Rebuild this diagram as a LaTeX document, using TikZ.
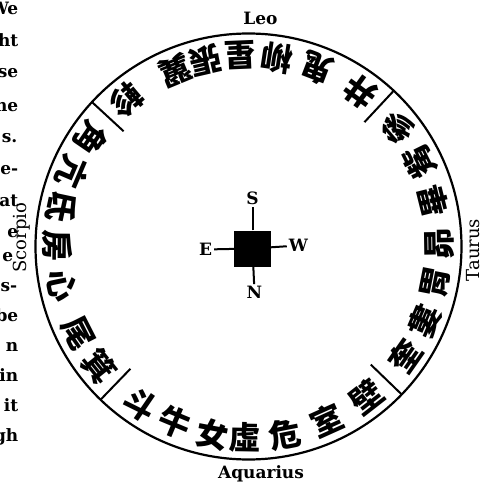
\documentclass[tikz,border=0pt]{standalone}
\usepackage{fontspec}
\setmainfont{DejaVu Serif}
\newfontfamily\cjk{Noto Sans CJK TC}
\usetikzlibrary{positioning}

\begin{document}
\begin{tikzpicture}[x=1pt,y=1pt,
  xiu/.style={inner sep=0pt,font=\cjk\fontsize{32}{32}\bfseries\selectfont},
  sign/.style={anchor=base,font=\fontsize{17}{17}\bfseries\selectfont},
  side/.style={rotate=90,font=\fontsize{18}{18}\selectfont},
  pnt/.style={inner sep=2pt,font=\fontsize{17}{17}\bfseries\selectfont},
  frag/.style={anchor=base east,inner sep=0pt,font=\fontsize{17}{17}\bfseries\selectfont},
  rim/.style={line width=2.2pt},
  cut/.style={line width=2pt},
  tick/.style={line width=2pt}
]
  \clip (-248.5,246.5) rectangle (235.5,-243.5);
  % page text cut off at the left
  \foreach \x/\y/\t [count=\i] in {-230/10/We,-230/42/ght,-230/73/se,-230/107/he,
      -231/138/s.,-230/170/e-,-230/202/at,-230/233/e,-235/257/e,-231/287/s-,
      -230/317/be,-230/347/n,-230/377/in,-230/407/it,-230/437/gh}
    \node[frag] (f\i) at (\x,{242-\y}) {\t};
  % ring
  \draw[rim] (0,0) circle[radius=213];
  \foreach \a in {47,137.3,226,316}
    \draw[cut] (\a:170) -- (\a:213);
  % the 28 mansions, tops to the centre
  \foreach \a/\c [count=\i] in {145.6/角,156.9/亢,168/氐,179.7/房,191.9/心,207/尾,218.7/箕,
      235.6/斗,247.3/牛,259.2/女,269/虛,281/危,294.2/室,308/壁,
      325/奎,337/婁,349/胃,360.9/昴,374/畢,386.4/觜,398.6/參,
      414/井,429/鬼,441.4/柳,452.4/星,463/張,472.5/翼,490/軫}
    \node[xiu,rotate=\a+90] (m\i) at (\a:191) {\c};
  % compass
  \node[fill=black,minimum size=36,inner sep=0pt] (sq) at (4,-2) {};
  \node[pnt] (S) at (4,48) {S};
  \node[pnt] (N) at (6,-46) {N};
  \node[pnt] (E) at (-43,-3) {E};
  \node[pnt] (W) at (50,1) {W};
  \draw[tick] (sq) -- (S);
  \draw[tick] (sq) -- (N);
  \draw[tick] (sq) -- (E);
  \draw[tick] (sq) -- (W);
  % signs
  \node[sign] (leo) at (12,221.5) {Leo};
  \node[sign] (aqu) at (12.5,-231.5) {Aquarius};
  \node[side] (sco) at (-227,9) {Scorpio};
  \node[side] (tau) at (224.5,-3.5) {Taurus};
\end{tikzpicture}
\end{document}
